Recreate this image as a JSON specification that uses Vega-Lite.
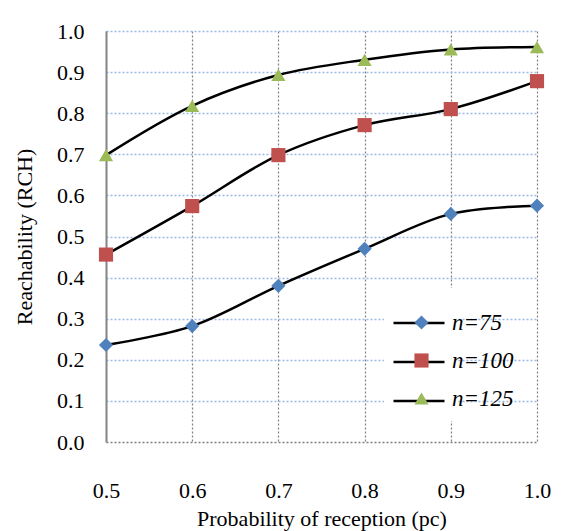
{
  "$schema": "https://vega.github.io/schema/vega-lite/v6.json",
  "autosize": "none",
  "width": 431,
  "height": 411,
  "padding": {"left": 106, "top": 31, "right": 24, "bottom": 89},
  "background": "white",
  "config": {
    "view": {"stroke": null},
    "font": "Liberation Serif"
  },
  "data": {
    "values": [
      {"p": 0.5, "rch": 0.236, "series": "n=75"},
      {"p": 0.6, "rch": 0.282, "series": "n=75"},
      {"p": 0.7, "rch": 0.380, "series": "n=75"},
      {"p": 0.8, "rch": 0.470, "series": "n=75"},
      {"p": 0.9, "rch": 0.555, "series": "n=75"},
      {"p": 1.0, "rch": 0.575, "series": "n=75"},
      {"p": 0.5, "rch": 0.456, "series": "n=100"},
      {"p": 0.6, "rch": 0.574, "series": "n=100"},
      {"p": 0.7, "rch": 0.698, "series": "n=100"},
      {"p": 0.8, "rch": 0.771, "series": "n=100"},
      {"p": 0.9, "rch": 0.810, "series": "n=100"},
      {"p": 1.0, "rch": 0.878, "series": "n=100"},
      {"p": 0.5, "rch": 0.698, "series": "n=125"},
      {"p": 0.6, "rch": 0.818, "series": "n=125"},
      {"p": 0.7, "rch": 0.893, "series": "n=125"},
      {"p": 0.8, "rch": 0.930, "series": "n=125"},
      {"p": 0.9, "rch": 0.955, "series": "n=125"},
      {"p": 1.0, "rch": 0.961, "series": "n=125"}
    ]
  },
  "encoding": {
    "x": {
      "field": "p", "type": "quantitative",
      "scale": {"domain": [0.5, 1.0], "nice": false, "zero": false},
      "axis": {
        "values": [0.5, 0.6, 0.7, 0.8, 0.9, 1.0],
        "format": ".1f",
        "title": "Probability of reception (pc)",
        "titleFont": "Liberation Serif", "titleFontSize": 22, "titleFontWeight": "normal", "titleColor": "#000",
        "titlePadding": 7,
        "labelFont": "Liberation Serif", "labelFontSize": 22, "labelColor": "#000",
        "labelPadding": 38, "labelFlush": false, "labelOverlap": false,
        "ticks": false, "domain": false,
        "grid": true, "gridColor": "#808080", "gridDash": [2, 2], "gridWidth": 1.2
      }
    },
    "y": {
      "field": "rch", "type": "quantitative",
      "scale": {"domain": [0, 1], "nice": false},
      "axis": {
        "values": [0, 0.1, 0.2, 0.3, 0.4, 0.5, 0.6, 0.7, 0.8, 0.9, 1.0],
        "format": ".1f",
        "title": "Reachability (RCH)",
        "titleFont": "Liberation Serif", "titleFontSize": 22, "titleFontWeight": "normal", "titleColor": "#000",
        "titlePadding": 20,
        "labelFont": "Liberation Serif", "labelFontSize": 22, "labelColor": "#000",
        "labelPadding": 22, "labelOverlap": false,
        "ticks": false,
        "domain": true, "domainColor": "#868686", "domainWidth": 2,
        "grid": true,
        "gridColor": {"condition": {"test": "datum.value === 0", "value": "#808080"}, "value": "#9DB9E2"},
        "gridDash": [2, 2], "gridWidth": 1.5
      }
    }
  },
  "layer": [
    {
      "mark": {"type": "line", "interpolate": "catmull-rom", "strokeWidth": 2.5},
      "encoding": {
        "stroke": {
          "field": "series", "type": "nominal",
          "sort": ["n=75", "n=100", "n=125"],
          "scale": {"range": ["#000000", "#000000", "#000000"]},
          "legend": {
            "orient": "none", "legendX": 278, "legendY": 257,
            "title": null, "zindex": 1,
            "symbolType": "stroke", "symbolSize": 2601, "symbolStrokeWidth": 2.5,
            "labelExpr": "'                 '",
            "labelFontSize": 23, "labelColor": "transparent", "labelFont": "Liberation Serif",
            "rowPadding": -18, "labelOffset": 2, "labelLimit": 300,
            "fillColor": "white", "padding": 8
          }
        }
      }
    },
    {
      "mark": {"type": "point", "filled": true, "opacity": 1, "size": 200},
      "encoding": {
        "shape": {
          "field": "series", "type": "nominal",
          "scale": {"domain": ["n=75", "n=100", "n=125"], "range": ["diamond", "square", "triangle-up"]},
          "legend": {
            "orient": "none", "legendX": 296, "legendY": 272,
            "title": null, "zindex": 2,
            "symbolSize": 200, "symbolStrokeWidth": 0,
            "labelFontSize": 23, "labelColor": "#000", "labelFont": "Liberation Serif", "labelFontStyle": "italic",
            "rowPadding": 14, "labelOffset": 19, "labelLimit": 200,
            "padding": 8
          }
        },
        "fill": {
          "field": "series", "type": "nominal",
          "scale": {"domain": ["n=75", "n=100", "n=125"], "range": ["#4F81BD", "#C0504D", "#9BBB59"]},
          "legend": {
            "orient": "none", "legendX": 296, "legendY": 272,
            "title": null, "zindex": 2,
            "symbolSize": 200, "symbolStrokeWidth": 0,
            "labelFontSize": 23, "labelColor": "#000", "labelFont": "Liberation Serif", "labelFontStyle": "italic",
            "rowPadding": 14, "labelOffset": 19, "labelLimit": 200,
            "padding": 8
          }
        }
      }
    }
  ]
}
